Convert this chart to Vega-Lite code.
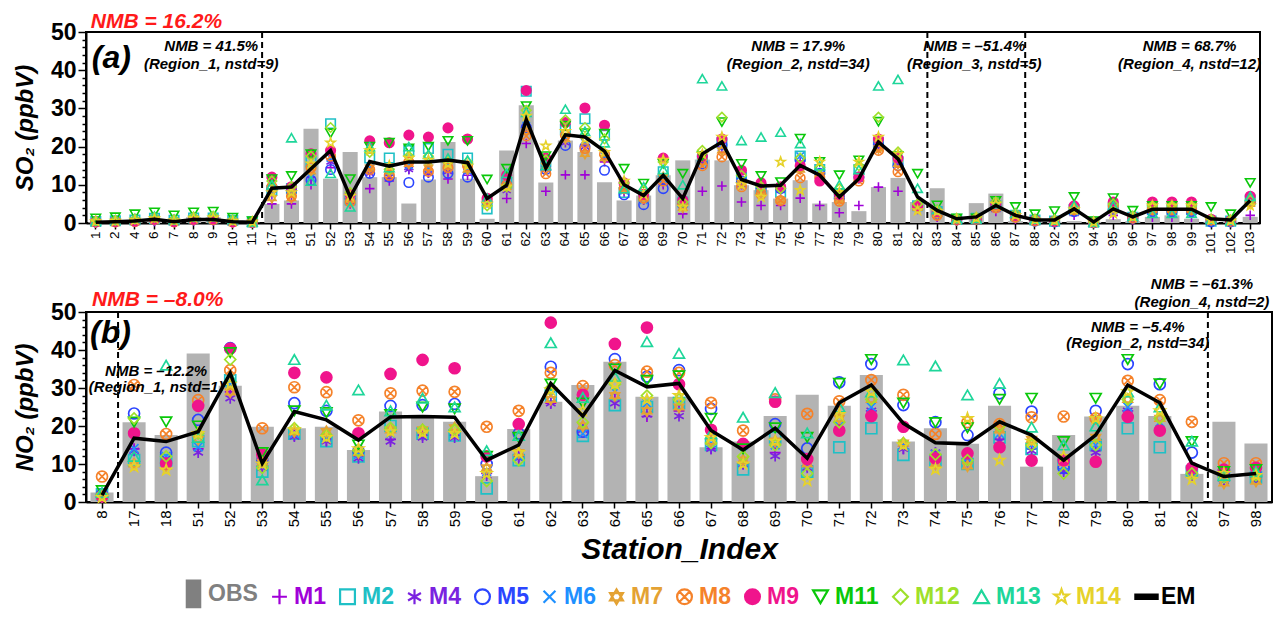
{
  "$schema": "https://vega.github.io/schema/vega-lite/v6.json",
  "padding": {"left": 12, "top": 9, "right": 5, "bottom": 5},
  "background": "white",
  "config": {
    "view": {"stroke": "black", "strokeWidth": 2},
    "font": "Liberation Sans",
    "axis": {"domainColor": "black", "domainWidth": 2, "tickColor": "black", "tickWidth": 1.5, "labelColor": "black", "titleColor": "black", "grid": false, "labelFont": "Liberation Sans", "titleFont": "Liberation Sans"},
    "axisY": {"labelOverlap": false},
    "legend": {"title": null, "orient": "none", "legendX": 96, "legendY": 550, "direction": "horizontal", "columns": 14, "columnPadding": 9, "labelFont": "Liberation Sans Narrow, Liberation Sans", "labelFontSize": 23, "labelFontWeight": "bold", "labelOffset": 3, "symbolSize": 220, "symbolStrokeWidth": 2.2, "labelLimit": 200, "symbolOpacity": 1},
    "text": {"font": "Liberation Sans"}
  },
  "datasets": {
    "a": [
      {"s":"1","OBS":0.2,"EM":0.2,"M1":0.1,"M2":0.4,"M4":0.2,"M5":0.3,"M6":0.3,"M7":0.3,"M8":0.3,"M9":0.3,"M11":1.2,"M12":0.5,"M13":0.6,"M14":0.4},
      {"s":"2","OBS":0.3,"EM":0.3,"M1":0.2,"M2":0.6,"M4":0.3,"M5":0.4,"M6":0.4,"M7":0.4,"M8":0.3,"M9":0.4,"M11":1.5,"M12":0.7,"M13":0.8,"M14":0.5},
      {"s":"4","OBS":0.3,"EM":0.5,"M1":0.2,"M2":0.8,"M4":0.3,"M5":0.5,"M6":0.5,"M7":0.5,"M8":0.4,"M9":0.5,"M11":2.3,"M12":1.0,"M13":1.2,"M14":0.8},
      {"s":"6","OBS":0.5,"EM":1.0,"M1":0.4,"M2":1.2,"M4":0.6,"M5":0.9,"M6":1.0,"M7":1.0,"M8":0.9,"M9":1.0,"M11":2.8,"M12":1.5,"M13":1.8,"M14":1.2},
      {"s":"7","OBS":0.3,"EM":0.3,"M1":0.2,"M2":0.7,"M4":0.3,"M5":0.4,"M6":0.4,"M7":0.4,"M8":0.3,"M9":0.4,"M11":2.0,"M12":0.9,"M13":0.9,"M14":0.6},
      {"s":"8","OBS":1.5,"EM":0.9,"M1":0.5,"M2":1.3,"M4":0.7,"M5":0.9,"M6":1.0,"M7":1.0,"M8":0.9,"M9":1.0,"M11":2.8,"M12":1.6,"M13":1.6,"M14":1.3},
      {"s":"9","OBS":1.5,"EM":0.9,"M1":0.5,"M2":1.3,"M4":0.7,"M5":1.0,"M6":1.0,"M7":1.0,"M8":0.9,"M9":1.1,"M11":3.0,"M12":1.8,"M13":1.7,"M14":1.4},
      {"s":"10","OBS":0.2,"EM":0.3,"M1":0.1,"M2":0.7,"M4":0.2,"M5":0.4,"M6":0.4,"M7":0.3,"M8":0.3,"M9":0.3,"M11":1.4,"M12":0.8,"M13":0.9,"M14":0.5},
      {"s":"11","OBS":0.1,"EM":0.2,"M1":0.1,"M2":0.3,"M4":0.1,"M5":0.2,"M6":0.2,"M7":0.2,"M8":0.2,"M9":0.2,"M11":0.5,"M12":0.3,"M13":0.3,"M14":0.3},
      {"s":"17","OBS":5.0,"EM":9.1,"M1":5.0,"M2":8.5,"M4":7.5,"M5":9.0,"M6":8.0,"M7":6.5,"M8":9.5,"M9":12.0,"M11":11.5,"M12":11.0,"M13":10.0,"M14":8.0},
      {"s":"18","OBS":5.9,"EM":9.4,"M1":5.0,"M2":9.0,"M4":7.0,"M5":8.5,"M6":8.0,"M7":6.5,"M8":7.0,"M9":9.5,"M11":12.3,"M12":9.5,"M13":22.3,"M14":8.0},
      {"s":"51","OBS":24.7,"EM":14.2,"M1":10.0,"M2":16.0,"M4":11.5,"M5":11.2,"M6":12.0,"M7":13.5,"M8":14.5,"M9":18.1,"M11":18.0,"M12":17.5,"M13":11.0,"M14":15.5},
      {"s":"52","OBS":11.6,"EM":19.0,"M1":14.5,"M2":26.0,"M4":16.0,"M5":14.0,"M6":17.0,"M7":18.5,"M8":17.5,"M9":19.0,"M11":23.5,"M12":25.0,"M13":13.0,"M14":21.0},
      {"s":"53","OBS":18.6,"EM":6.8,"M1":5.0,"M2":6.0,"M4":5.5,"M5":6.5,"M6":6.5,"M7":6.0,"M8":5.5,"M9":7.5,"M11":11.5,"M12":8.0,"M13":4.2,"M14":7.0},
      {"s":"54","OBS":12.0,"EM":16.1,"M1":9.0,"M2":17.0,"M4":13.0,"M5":13.0,"M6":14.5,"M7":14.5,"M8":14.0,"M9":21.5,"M11":20.0,"M12":18.5,"M13":20.0,"M14":19.0},
      {"s":"55","OBS":12.0,"EM":14.9,"M1":11.0,"M2":17.0,"M4":12.0,"M5":12.0,"M6":13.5,"M7":13.5,"M8":12.5,"M9":21.0,"M11":21.0,"M12":14.0,"M13":14.5,"M14":15.0},
      {"s":"56","OBS":5.1,"EM":16.0,"M1":14.0,"M2":19.0,"M4":14.0,"M5":10.6,"M6":15.0,"M7":15.5,"M8":16.0,"M9":23.0,"M11":19.5,"M12":17.5,"M13":20.0,"M14":17.0},
      {"s":"57","OBS":11.4,"EM":16.0,"M1":13.0,"M2":19.5,"M4":13.0,"M5":12.0,"M6":14.5,"M7":14.5,"M8":13.5,"M9":22.5,"M11":20.0,"M12":17.5,"M13":18.0,"M14":16.5},
      {"s":"58","OBS":21.2,"EM":16.5,"M1":11.5,"M2":18.0,"M4":13.5,"M5":13.0,"M6":15.0,"M7":15.0,"M8":14.5,"M9":24.9,"M11":21.5,"M12":16.0,"M13":17.0,"M14":15.5},
      {"s":"59","OBS":11.6,"EM":15.8,"M1":12.5,"M2":17.0,"M4":13.5,"M5":12.0,"M6":14.0,"M7":14.0,"M8":15.0,"M9":22.0,"M11":21.5,"M12":16.0,"M13":16.5,"M14":15.0},
      {"s":"60","OBS":1.1,"EM":6.4,"M1":5.5,"M2":3.7,"M4":5.5,"M5":5.5,"M6":6.0,"M7":6.0,"M8":6.0,"M9":6.5,"M11":11.4,"M12":4.5,"M13":6.5,"M14":5.0},
      {"s":"61","OBS":19.0,"EM":9.9,"M1":6.4,"M2":10.5,"M4":8.5,"M5":10.0,"M6":11.0,"M7":9.5,"M8":10.0,"M9":12.5,"M11":14.2,"M12":9.5,"M13":13.0,"M14":9.5},
      {"s":"62","OBS":30.8,"EM":27.1,"M1":20.8,"M2":34.5,"M4":25.0,"M5":25.0,"M6":25.5,"M7":24.0,"M8":22.8,"M9":34.7,"M11":30.6,"M12":29.5,"M13":29.0,"M14":28.0},
      {"s":"63","OBS":10.6,"EM":14.4,"M1":8.3,"M2":16.0,"M4":14.0,"M5":14.0,"M6":15.0,"M7":15.0,"M8":12.9,"M9":17.0,"M11":17.5,"M12":16.5,"M13":15.0,"M14":20.2},
      {"s":"64","OBS":21.6,"EM":23.1,"M1":12.6,"M2":24.5,"M4":21.0,"M5":20.3,"M6":22.0,"M7":22.0,"M8":23.0,"M9":26.3,"M11":25.5,"M12":27.0,"M13":29.8,"M14":24.0},
      {"s":"65","OBS":18.6,"EM":22.5,"M1":12.6,"M2":27.3,"M4":20.0,"M5":20.0,"M6":21.0,"M7":18.1,"M8":19.5,"M9":30.1,"M11":23.5,"M12":25.0,"M13":24.0,"M14":22.0},
      {"s":"66","OBS":10.7,"EM":18.8,"M1":16.0,"M2":23.0,"M4":17.0,"M5":13.8,"M6":17.5,"M7":17.0,"M8":18.0,"M9":25.6,"M11":23.4,"M12":22.0,"M13":21.0,"M14":18.5},
      {"s":"67","OBS":5.9,"EM":10.0,"M1":8.0,"M2":8.0,"M4":8.5,"M5":7.4,"M6":8.5,"M7":9.0,"M8":9.0,"M9":10.5,"M11":14.2,"M12":10.5,"M13":9.0,"M14":11.0},
      {"s":"68","OBS":7.2,"EM":7.2,"M1":6.0,"M2":7.0,"M4":6.0,"M5":4.8,"M6":6.0,"M7":6.5,"M8":6.5,"M9":7.5,"M11":10.3,"M12":8.5,"M13":9.5,"M14":7.5},
      {"s":"69","OBS":12.5,"EM":12.5,"M1":10.0,"M2":13.4,"M4":10.5,"M5":9.0,"M6":11.5,"M7":12.0,"M8":11.0,"M9":17.0,"M11":15.5,"M12":16.0,"M13":14.0,"M14":16.5},
      {"s":"70","OBS":16.4,"EM":6.4,"M1":2.4,"M2":5.5,"M4":4.5,"M5":5.0,"M6":5.0,"M7":4.0,"M8":5.0,"M9":6.0,"M11":12.9,"M12":5.5,"M13":10.0,"M14":4.2},
      {"s":"71","OBS":16.6,"EM":18.1,"M1":8.3,"M2":16.5,"M4":16.0,"M5":15.5,"M6":16.5,"M7":16.0,"M8":15.0,"M9":17.5,"M11":17.5,"M12":19.0,"M13":37.8,"M14":18.0},
      {"s":"72","OBS":16.4,"EM":21.2,"M1":9.7,"M2":21.0,"M4":19.5,"M5":20.5,"M6":20.0,"M7":19.0,"M8":17.3,"M9":22.0,"M11":26.4,"M12":27.7,"M13":35.9,"M14":22.5},
      {"s":"73","OBS":9.9,"EM":11.4,"M1":5.5,"M2":12.0,"M4":10.0,"M5":11.0,"M6":11.0,"M7":10.5,"M8":9.5,"M9":13.8,"M11":15.5,"M12":12.5,"M13":21.6,"M14":10.0},
      {"s":"74","OBS":8.6,"EM":9.7,"M1":4.6,"M2":9.0,"M4":8.0,"M5":9.0,"M6":9.0,"M7":8.0,"M8":7.5,"M9":10.5,"M11":12.3,"M12":9.5,"M13":22.5,"M14":6.8},
      {"s":"75","OBS":6.4,"EM":9.9,"M1":4.6,"M2":8.0,"M4":8.5,"M5":9.0,"M6":9.5,"M7":6.0,"M8":5.9,"M9":9.5,"M11":10.7,"M12":9.0,"M13":23.8,"M14":16.0},
      {"s":"76","OBS":11.2,"EM":15.1,"M1":6.5,"M2":17.5,"M4":16.0,"M5":16.5,"M6":17.5,"M7":14.0,"M8":11.8,"M9":15.0,"M11":22.1,"M12":17.0,"M13":20.8,"M14":8.6},
      {"s":"77","OBS":5.1,"EM":12.5,"M1":4.6,"M2":14.0,"M4":12.0,"M5":13.0,"M6":13.0,"M7":12.5,"M8":12.0,"M9":11.0,"M11":16.0,"M12":14.5,"M13":15.0,"M14":16.0},
      {"s":"78","OBS":5.5,"EM":6.8,"M1":2.7,"M2":7.5,"M4":6.5,"M5":6.5,"M6":7.0,"M7":6.0,"M8":5.7,"M9":7.5,"M11":12.5,"M12":9.0,"M13":10.0,"M14":8.0},
      {"s":"79","OBS":3.1,"EM":11.6,"M1":4.6,"M2":14.0,"M4":11.5,"M5":12.0,"M6":12.5,"M7":12.0,"M8":11.0,"M9":12.0,"M11":16.4,"M12":15.0,"M13":14.0,"M14":16.0},
      {"s":"80","OBS":9.4,"EM":21.2,"M1":9.4,"M2":21.0,"M4":20.0,"M5":20.5,"M6":20.5,"M7":19.5,"M8":19.0,"M9":22.0,"M11":26.5,"M12":27.7,"M13":35.9,"M14":22.5},
      {"s":"81","OBS":11.8,"EM":16.8,"M1":8.3,"M2":16.0,"M4":15.5,"M5":15.0,"M6":16.0,"M7":15.5,"M8":13.4,"M9":17.0,"M11":17.5,"M12":18.6,"M13":37.6,"M14":18.0},
      {"s":"82","OBS":5.5,"EM":6.8,"M1":3.5,"M2":4.5,"M4":4.0,"M5":4.5,"M6":4.5,"M7":4.0,"M8":4.5,"M9":4.5,"M11":12.9,"M12":5.0,"M13":9.1,"M14":3.3},
      {"s":"83","OBS":9.1,"EM":3.3,"M1":1.5,"M2":3.0,"M4":2.5,"M5":2.5,"M6":3.0,"M7":2.5,"M8":2.0,"M9":3.0,"M11":4.6,"M12":3.5,"M13":3.5,"M14":3.0},
      {"s":"84","OBS":0.3,"EM":1.1,"M1":0.5,"M2":1.0,"M4":0.8,"M5":0.8,"M6":0.8,"M7":0.8,"M8":0.8,"M9":1.0,"M11":1.2,"M12":1.2,"M13":1.2,"M14":1.0},
      {"s":"85","OBS":5.2,"EM":1.6,"M1":0.8,"M2":1.2,"M4":1.0,"M5":1.0,"M6":1.0,"M7":1.0,"M8":1.0,"M9":1.2,"M11":1.2,"M12":1.5,"M13":1.2,"M14":1.3},
      {"s":"86","OBS":7.7,"EM":4.6,"M1":3.0,"M2":4.5,"M4":4.0,"M5":4.5,"M6":4.5,"M7":4.0,"M8":4.0,"M9":5.0,"M11":5.8,"M12":5.5,"M13":5.0,"M14":5.0},
      {"s":"87","OBS":0.5,"EM":2.0,"M1":1.0,"M2":2.0,"M4":1.5,"M5":1.5,"M6":1.5,"M7":1.5,"M8":1.5,"M9":2.0,"M11":4.2,"M12":2.5,"M13":2.5,"M14":2.0},
      {"s":"88","OBS":0.3,"EM":0.8,"M1":0.3,"M2":0.8,"M4":0.5,"M5":0.5,"M6":0.6,"M7":0.6,"M8":0.6,"M9":0.8,"M11":2.3,"M12":1.0,"M13":1.0,"M14":0.8},
      {"s":"92","OBS":0.3,"EM":0.8,"M1":0.2,"M2":0.5,"M4":0.3,"M5":0.3,"M6":0.5,"M7":0.5,"M8":0.5,"M9":0.5,"M11":3.1,"M12":0.8,"M13":0.8,"M14":0.6},
      {"s":"93","OBS":0.5,"EM":3.7,"M1":2.0,"M2":3.5,"M4":3.0,"M5":3.0,"M6":3.0,"M7":3.5,"M8":3.5,"M9":4.5,"M11":6.8,"M12":4.0,"M13":4.5,"M14":3.5},
      {"s":"94","OBS":0.3,"EM":0.3,"M1":0.1,"M2":0.2,"M4":0.1,"M5":0.1,"M6":0.2,"M7":0.2,"M8":0.2,"M9":0.2,"M11":0.5,"M12":0.2,"M13":0.3,"M14":0.2},
      {"s":"95","OBS":1.0,"EM":3.7,"M1":2.0,"M2":4.0,"M4":3.5,"M5":3.5,"M6":4.0,"M7":4.0,"M8":4.5,"M9":5.5,"M11":6.5,"M12":5.0,"M13":4.5,"M14":2.5},
      {"s":"96","OBS":0.5,"EM":1.6,"M1":0.8,"M2":1.5,"M4":1.2,"M5":1.2,"M6":1.3,"M7":1.3,"M8":1.3,"M9":1.6,"M11":3.2,"M12":1.8,"M13":1.8,"M14":1.5},
      {"s":"97","OBS":1.6,"EM":3.6,"M1":1.5,"M2":3.5,"M4":3.0,"M5":3.0,"M6":3.0,"M7":3.5,"M8":3.5,"M9":5.5,"M11":4.5,"M12":4.5,"M13":2.5,"M14":4.5},
      {"s":"98","OBS":2.0,"EM":3.6,"M1":1.5,"M2":3.5,"M4":3.0,"M5":3.0,"M6":3.0,"M7":3.5,"M8":3.5,"M9":5.5,"M11":4.5,"M12":4.5,"M13":2.5,"M14":4.5},
      {"s":"99","OBS":1.1,"EM":3.6,"M1":1.5,"M2":3.5,"M4":3.0,"M5":3.0,"M6":3.0,"M7":3.5,"M8":3.5,"M9":5.5,"M11":4.5,"M12":4.5,"M13":2.5,"M14":4.5},
      {"s":"101","OBS":0.3,"EM":1.1,"M1":0.5,"M2":0.5,"M4":0.5,"M5":0.3,"M6":0.5,"M7":0.8,"M8":0.8,"M9":1.0,"M11":4.2,"M12":1.0,"M13":1.0,"M14":0.8},
      {"s":"102","OBS":0.3,"EM":0.8,"M1":0.3,"M2":0.5,"M4":0.4,"M5":0.3,"M6":0.4,"M7":0.5,"M8":0.5,"M9":0.6,"M11":2.3,"M12":0.8,"M13":0.7,"M14":0.6},
      {"s":"103","OBS":1.6,"EM":5.9,"M1":2.0,"M2":6.0,"M4":5.0,"M5":5.5,"M6":5.5,"M7":5.0,"M8":5.5,"M9":7.0,"M11":10.5,"M12":6.0,"M13":7.0,"M14":4.5}
    ],
    "b": [
      {"s":"8","OBS":2.5,"EM":1.8,"M1":1.5,"M2":2.0,"M4":1.2,"M5":2.0,"M6":1.5,"M7":1.5,"M8":6.7,"M9":1.5,"M11":3.0,"M12":2.0,"M13":2.5,"M14":1.2},
      {"s":"17","OBS":21.0,"EM":16.8,"M1":14.0,"M2":11.0,"M4":13.5,"M5":23.3,"M6":14.1,"M7":10.0,"M8":30.8,"M9":18.1,"M11":21.0,"M12":22.0,"M13":12.0,"M14":9.3},
      {"s":"18","OBS":17.6,"EM":15.9,"M1":10.0,"M2":11.0,"M4":11.0,"M5":13.0,"M6":12.0,"M7":9.5,"M8":17.9,"M9":10.2,"M11":21.1,"M12":12.0,"M13":36.0,"M14":8.4},
      {"s":"51","OBS":39.1,"EM":18.5,"M1":14.0,"M2":16.0,"M4":13.0,"M5":21.6,"M6":14.5,"M7":16.5,"M8":26.8,"M9":25.3,"M11":20.0,"M12":18.0,"M13":17.0,"M14":18.0},
      {"s":"52","OBS":30.6,"EM":33.9,"M1":29.0,"M2":32.0,"M4":27.3,"M5":40.5,"M6":31.0,"M7":29.0,"M8":34.7,"M9":40.4,"M11":39.3,"M12":37.5,"M13":33.0,"M14":31.0},
      {"s":"53","OBS":19.8,"EM":10.2,"M1":9.0,"M2":8.0,"M4":9.0,"M5":11.0,"M6":9.5,"M7":10.5,"M8":19.4,"M9":12.5,"M11":13.0,"M12":9.0,"M13":5.8,"M14":10.0},
      {"s":"54","OBS":19.4,"EM":23.8,"M1":17.5,"M2":18.0,"M4":17.2,"M5":26.0,"M6":18.0,"M7":18.5,"M8":30.2,"M9":34.0,"M11":24.0,"M12":19.4,"M13":37.5,"M14":19.0},
      {"s":"55","OBS":19.8,"EM":21.6,"M1":16.0,"M2":16.0,"M4":16.0,"M5":24.0,"M6":17.0,"M7":18.5,"M8":28.9,"M9":32.8,"M11":23.5,"M12":17.5,"M13":25.5,"M14":17.0},
      {"s":"56","OBS":13.7,"EM":16.3,"M1":12.0,"M2":12.0,"M4":11.5,"M5":13.5,"M6":12.5,"M7":13.0,"M8":21.5,"M9":18.1,"M11":15.0,"M12":13.5,"M13":29.5,"M14":14.0},
      {"s":"57","OBS":23.8,"EM":22.4,"M1":16.5,"M2":20.0,"M4":15.9,"M5":25.3,"M6":18.0,"M7":19.0,"M8":28.6,"M9":33.7,"M11":23.0,"M12":19.5,"M13":24.0,"M14":18.5},
      {"s":"58","OBS":22.4,"EM":22.5,"M1":17.5,"M2":18.0,"M4":17.0,"M5":25.5,"M6":18.0,"M7":19.0,"M8":29.3,"M9":37.4,"M11":25.0,"M12":19.0,"M13":27.3,"M14":18.2},
      {"s":"59","OBS":21.1,"EM":22.3,"M1":17.5,"M2":17.5,"M4":17.0,"M5":25.8,"M6":18.0,"M7":19.5,"M8":29.0,"M9":35.2,"M11":24.5,"M12":19.0,"M13":25.0,"M14":18.0},
      {"s":"60","OBS":6.8,"EM":11.0,"M1":7.5,"M2":3.6,"M4":7.0,"M5":10.0,"M6":8.0,"M7":9.0,"M8":19.8,"M9":12.0,"M11":12.0,"M12":5.5,"M13":13.5,"M14":7.5},
      {"s":"61","OBS":19.2,"EM":15.0,"M1":12.0,"M2":11.0,"M4":11.5,"M5":18.0,"M6":12.0,"M7":13.0,"M8":24.0,"M9":20.5,"M11":17.0,"M12":11.0,"M13":17.5,"M14":13.0},
      {"s":"62","OBS":26.4,"EM":31.2,"M1":26.0,"M2":28.0,"M4":26.0,"M5":35.6,"M6":28.0,"M7":27.0,"M8":34.0,"M9":47.2,"M11":31.0,"M12":30.0,"M13":41.9,"M14":29.5},
      {"s":"63","OBS":30.8,"EM":22.6,"M1":19.0,"M2":17.4,"M4":19.0,"M5":18.5,"M6":18.0,"M7":20.0,"M8":30.5,"M9":28.2,"M11":26.0,"M12":21.0,"M13":27.5,"M14":24.0},
      {"s":"64","OBS":36.9,"EM":34.6,"M1":27.0,"M2":25.5,"M4":26.0,"M5":37.6,"M6":29.0,"M7":28.0,"M8":36.0,"M9":41.6,"M11":35.0,"M12":31.0,"M13":33.0,"M14":31.0},
      {"s":"65","OBS":27.7,"EM":30.3,"M1":22.5,"M2":25.0,"M4":23.0,"M5":33.0,"M6":26.0,"M7":24.0,"M8":34.3,"M9":45.9,"M11":32.0,"M12":28.0,"M13":42.2,"M14":27.0},
      {"s":"66","OBS":27.7,"EM":31.2,"M1":24.0,"M2":26.0,"M4":22.6,"M5":34.7,"M6":26.0,"M7":25.0,"M8":34.0,"M9":31.0,"M11":33.2,"M12":27.0,"M13":39.1,"M14":28.0},
      {"s":"67","OBS":14.4,"EM":18.8,"M1":14.0,"M2":15.0,"M4":14.0,"M5":24.5,"M6":15.5,"M7":16.0,"M8":26.1,"M9":19.0,"M11":22.0,"M12":15.5,"M13":18.0,"M14":17.0},
      {"s":"68","OBS":15.9,"EM":13.7,"M1":10.0,"M2":8.6,"M4":10.0,"M5":15.0,"M6":10.5,"M7":11.0,"M8":18.8,"M9":15.3,"M11":14.0,"M12":12.0,"M13":22.3,"M14":10.0},
      {"s":"69","OBS":22.6,"EM":19.4,"M1":13.0,"M2":17.0,"M4":12.1,"M5":20.5,"M6":15.0,"M7":16.0,"M8":27.0,"M9":26.4,"M11":19.5,"M12":15.0,"M13":28.8,"M14":16.0},
      {"s":"70","OBS":28.2,"EM":11.5,"M1":9.5,"M2":8.0,"M4":9.0,"M5":14.1,"M6":10.0,"M7":10.0,"M8":23.2,"M9":11.3,"M11":17.0,"M12":7.5,"M13":18.2,"M14":5.6},
      {"s":"71","OBS":25.3,"EM":26.1,"M1":19.0,"M2":14.4,"M4":19.0,"M5":31.5,"M6":20.0,"M7":22.0,"M8":26.5,"M9":18.8,"M11":31.2,"M12":21.0,"M13":25.0,"M14":23.0},
      {"s":"72","OBS":33.4,"EM":30.8,"M1":24.0,"M2":19.4,"M4":24.0,"M5":36.3,"M6":25.0,"M7":27.0,"M8":32.1,"M9":22.6,"M11":37.5,"M12":27.0,"M13":29.0,"M14":29.0},
      {"s":"73","OBS":15.9,"EM":20.7,"M1":14.0,"M2":12.4,"M4":14.0,"M5":25.5,"M6":15.0,"M7":15.5,"M8":28.2,"M9":19.8,"M11":26.0,"M12":15.5,"M13":37.4,"M14":15.0},
      {"s":"74","OBS":19.4,"EM":15.6,"M1":12.0,"M2":11.0,"M4":13.0,"M5":21.0,"M6":12.5,"M7":10.0,"M8":17.9,"M9":11.5,"M11":20.9,"M12":12.5,"M13":35.8,"M14":8.6},
      {"s":"75","OBS":15.3,"EM":15.3,"M1":10.5,"M2":10.0,"M4":11.0,"M5":17.6,"M6":11.5,"M7":9.5,"M8":21.0,"M9":12.8,"M11":19.5,"M12":11.0,"M13":28.2,"M14":22.0},
      {"s":"76","OBS":25.3,"EM":21.1,"M1":16.5,"M2":17.0,"M4":16.0,"M5":28.6,"M6":18.0,"M7":19.0,"M8":20.5,"M9":14.4,"M11":27.0,"M12":20.0,"M13":31.2,"M14":11.0},
      {"s":"77","OBS":9.3,"EM":17.6,"M1":14.0,"M2":14.0,"M4":13.5,"M5":23.8,"M6":15.0,"M7":16.5,"M8":22.3,"M9":10.9,"M11":27.3,"M12":15.0,"M13":19.7,"M14":16.0},
      {"s":"78","OBS":17.6,"EM":11.0,"M1":8.5,"M2":10.0,"M4":8.0,"M5":9.0,"M6":9.5,"M7":10.5,"M8":22.5,"M9":11.0,"M11":15.9,"M12":7.5,"M13":15.0,"M14":12.0},
      {"s":"79","OBS":22.5,"EM":17.6,"M1":13.5,"M2":15.0,"M4":13.0,"M5":24.0,"M6":15.0,"M7":17.0,"M8":22.0,"M9":10.6,"M11":27.3,"M12":15.0,"M13":20.0,"M14":22.0},
      {"s":"80","OBS":25.3,"EM":30.8,"M1":24.0,"M2":19.4,"M4":24.0,"M5":36.3,"M6":25.0,"M7":27.0,"M8":31.9,"M9":22.4,"M11":37.5,"M12":27.0,"M13":29.0,"M14":29.0},
      {"s":"81","OBS":22.6,"EM":26.1,"M1":19.0,"M2":14.4,"M4":19.0,"M5":31.0,"M6":21.0,"M7":22.0,"M8":26.8,"M9":18.8,"M11":31.1,"M12":22.0,"M13":25.0,"M14":24.0},
      {"s":"82","OBS":7.4,"EM":10.2,"M1":7.0,"M2":8.0,"M4":7.0,"M5":13.0,"M6":8.0,"M7":8.5,"M8":21.1,"M9":9.0,"M11":15.9,"M12":7.5,"M13":16.0,"M14":6.0},
      {"s":"97","OBS":21.1,"EM":6.7,"M1":5.5,"M2":7.0,"M4":5.5,"M5":7.0,"M6":6.0,"M7":5.0,"M8":10.2,"M9":8.5,"M11":8.0,"M12":6.5,"M13":7.0,"M14":7.5},
      {"s":"98","OBS":15.4,"EM":7.5,"M1":5.5,"M2":6.5,"M4":6.0,"M5":7.0,"M6":6.5,"M7":5.5,"M8":10.2,"M9":9.0,"M11":8.5,"M12":7.0,"M13":8.0,"M14":7.0}
    ]
  },
  "resolve": {"scale": {"color": "shared", "shape": "shared", "fill": "shared", "x": "independent", "y": "independent"}, "legend": {"color": "shared", "shape": "shared", "fill": "shared"}},
  "spacing": 20,
  "vconcat": [
    {
      "width": 1174,
      "height": 191,
      "data": {"name": "a"},
      "encoding": {
        "x": {"field": "s", "type": "ordinal", "title": null,
          "scale": {"domain": ["1","2","4","6","7","8","9","10","11","17","18","51","52","53","54","55","56","57","58","59","60","61","62","63","64","65","66","67","68","69","70","71","72","73","74","75","76","77","78","79","80","81","82","83","84","85","86","87","88","92","93","94","95","96","97","98","99","101","102","103"], "paddingInner": 0, "paddingOuter": 0},
          "axis": {"labelAngle": 270, "labelFontSize": 13.5, "tickSize": 6, "labelPadding": 2, "title": null}}
      },
      "layer": [
        {"mark": {"type": "bar", "color": "#b3b3b3", "width": {"band": 0.77}},
         "encoding": {"y": {"field": "OBS", "type": "quantitative", "scale": {"domain": [0, 50], "nice": false},
           "axis": {"values": [0,2,4,6,8,10,12,14,16,18,20,22,24,26,28,30,32,34,36,38,40,42,44,46,48,50], "labelExpr": "datum.value % 10 === 0 ? datum.label : ''", "labelOverlap": false, "tickSize": {"condition": {"test": "datum.value % 10 === 0", "value": 8}, "value": 4}, "labelFontSize": 23, "labelFontWeight": "bold", "labelFlush": false, "labelPadding": 2, "title": "SO₂ (ppbV)", "titleFontSize": 24, "titleFontWeight": "bold", "titleFontStyle": "italic", "titlePadding": 13}}}},
        {"transform": [{"fold": ["M1","M2","M4","M5","M6","M7","M8","M9","M11","M12","M13","M14"], "as": ["m", "v"]}],
         "mark": {"type": "point", "size": 90, "strokeWidth": 1.6, "opacity": 1},
         "encoding": {
           "y": {"field": "v", "type": "quantitative",
             "axis": {"values": [0,2,4,6,8,10,12,14,16,18,20,22,24,26,28,30,32,34,36,38,40,42,44,46,48,50], "labelExpr": "datum.value % 10 === 0 ? datum.label : ''", "labelOverlap": false, "tickSize": {"condition": {"test": "datum.value % 10 === 0", "value": 8}, "value": 4}, "labelFontSize": 23, "labelFontWeight": "bold", "labelFlush": false, "labelPadding": 2, "title": "SO₂ (ppbV)", "titleFontSize": 24, "titleFontWeight": "bold", "titleFontStyle": "italic", "titlePadding": 13}},
           "color": {"field": "m", "type": "nominal",
             "scale": {"domain": ["OBS","M1","M2","M4","M5","M6","M7","M8","M9","M11","M12","M13","M14","EM"], "range": ["#808080","#a000d8","#1fc0c6","#7a22e0","#2b45ff","#1e90ff","#e4a233","#f5822a","#f0148c","#0ac80a","#9ee02a","#1ed69a","#e6d22a","#000000"]},
             "legend": {"encode": {"labels": {"update": {"fill": {"signal": "datum.value === 'OBS' ? '#808080' : datum.value === 'M1' ? '#a000d8' : datum.value === 'M2' ? '#1fc0c6' : datum.value === 'M4' ? '#7a22e0' : datum.value === 'M5' ? '#2b45ff' : datum.value === 'M6' ? '#1e90ff' : datum.value === 'M7' ? '#e4a233' : datum.value === 'M8' ? '#f5822a' : datum.value === 'M9' ? '#f0148c' : datum.value === 'M11' ? '#0ac80a' : datum.value === 'M12' ? '#9ee02a' : datum.value === 'M13' ? '#1ed69a' : datum.value === 'M14' ? '#e6d22a' : '#000000'"}}}}}},
           "shape": {"field": "m", "type": "nominal",
             "scale": {"domain": ["OBS","M1","M2","M4","M5","M6","M7","M8","M9","M11","M12","M13","M14","EM"], "range": ["M-0.9,-1.8H0.9V1.8H-0.9Z","M-1,0H1M0,-1V1","square","M0,-1V1M-0.87,-0.5L0.87,0.5M-0.87,0.5L0.87,-0.5","circle","M-0.8,-0.8L0.8,0.8M-0.8,0.8L0.8,-0.8","M0,-1L0.87,0.5L-0.87,0.5ZM0,1L0.87,-0.5L-0.87,-0.5Z","M1,0A1,1,0,1,1,-1,0A1,1,0,1,1,1,0ZM-0.7,-0.7L0.7,0.7M-0.7,0.7L0.7,-0.7","circle","triangle-down","diamond","triangle-up","M0,-1L0.235,-0.324L0.951,-0.309L0.38,0.124L0.588,0.809L0,0.4L-0.588,0.809L-0.38,0.124L-0.951,-0.309L-0.235,-0.324Z","M-1.5,-0.28H1.5V0.28H-1.5Z"]},
             "legend": {"encode": {"labels": {"update": {"fill": {"signal": "datum.value === 'OBS' ? '#808080' : datum.value === 'M1' ? '#a000d8' : datum.value === 'M2' ? '#1fc0c6' : datum.value === 'M4' ? '#7a22e0' : datum.value === 'M5' ? '#2b45ff' : datum.value === 'M6' ? '#1e90ff' : datum.value === 'M7' ? '#e4a233' : datum.value === 'M8' ? '#f5822a' : datum.value === 'M9' ? '#f0148c' : datum.value === 'M11' ? '#0ac80a' : datum.value === 'M12' ? '#9ee02a' : datum.value === 'M13' ? '#1ed69a' : datum.value === 'M14' ? '#e6d22a' : '#000000'"}}}}}},
           "fill": {"field": "m", "type": "nominal",
             "scale": {"domain": ["OBS","M1","M2","M4","M5","M6","M7","M8","M9","M11","M12","M13","M14","EM"], "range": ["#808080","transparent","transparent","transparent","transparent","transparent","transparent","transparent","#f0148c","transparent","transparent","transparent","transparent","#000000"]},
             "legend": {"encode": {"labels": {"update": {"fill": {"signal": "datum.value === 'OBS' ? '#808080' : datum.value === 'M1' ? '#a000d8' : datum.value === 'M2' ? '#1fc0c6' : datum.value === 'M4' ? '#7a22e0' : datum.value === 'M5' ? '#2b45ff' : datum.value === 'M6' ? '#1e90ff' : datum.value === 'M7' ? '#e4a233' : datum.value === 'M8' ? '#f5822a' : datum.value === 'M9' ? '#f0148c' : datum.value === 'M11' ? '#0ac80a' : datum.value === 'M12' ? '#9ee02a' : datum.value === 'M13' ? '#1ed69a' : datum.value === 'M14' ? '#e6d22a' : '#000000'"}}}}}}
         }},
        {"mark": {"type": "line", "color": "black", "strokeWidth": 3.5},
         "encoding": {"y": {"field": "EM", "type": "quantitative",
           "axis": {"values": [0,2,4,6,8,10,12,14,16,18,20,22,24,26,28,30,32,34,36,38,40,42,44,46,48,50], "labelExpr": "datum.value % 10 === 0 ? datum.label : ''", "labelOverlap": false, "tickSize": {"condition": {"test": "datum.value % 10 === 0", "value": 8}, "value": 4}, "labelFontSize": 23, "labelFontWeight": "bold", "labelFlush": false, "labelPadding": 2, "title": "SO₂ (ppbV)", "titleFontSize": 24, "titleFontWeight": "bold", "titleFontStyle": "italic", "titlePadding": 13}}}},
        {"data": {"values": [{"s": "17"}, {"s": "83"}, {"s": "88"}]},
         "mark": {"type": "rule", "color": "black", "strokeWidth": 2, "strokeDash": [6, 4]},
         "encoding": {"x": {"field": "s", "type": "ordinal", "bandPosition": 0}}},
        {"data": {"values": [{"s": "1", "y": 43.2, "t": "(a)"}]},
         "mark": {"type": "text", "align": "left", "baseline": "middle", "dx": -4, "fontSize": 32, "fontWeight": "bold", "fontStyle": "italic", "color": "black"},
         "encoding": {"y": {"field": "y", "type": "quantitative",
           "axis": {"values": [0,2,4,6,8,10,12,14,16,18,20,22,24,26,28,30,32,34,36,38,40,42,44,46,48,50], "labelExpr": "datum.value % 10 === 0 ? datum.label : ''", "labelOverlap": false, "tickSize": {"condition": {"test": "datum.value % 10 === 0", "value": 8}, "value": 4}, "labelFontSize": 23, "labelFontWeight": "bold", "labelFlush": false, "labelPadding": 2, "title": "SO₂ (ppbV)", "titleFontSize": 24, "titleFontWeight": "bold", "titleFontStyle": "italic", "titlePadding": 13}}, "text": {"field": "t"}}},
        {"data": {"values": [{"s": "1", "y": 52.7, "t": "NMB = 16.2%"}]},
         "mark": {"type": "text", "align": "left", "baseline": "middle", "dx": -5, "fontSize": 21, "fontWeight": "bold", "fontStyle": "italic", "color": "#ff1a1a"},
         "encoding": {"y": {"field": "y", "type": "quantitative",
           "axis": {"values": [0,2,4,6,8,10,12,14,16,18,20,22,24,26,28,30,32,34,36,38,40,42,44,46,48,50], "labelExpr": "datum.value % 10 === 0 ? datum.label : ''", "labelOverlap": false, "tickSize": {"condition": {"test": "datum.value % 10 === 0", "value": 8}, "value": 4}, "labelFontSize": 23, "labelFontWeight": "bold", "labelFlush": false, "labelPadding": 2, "title": "SO₂ (ppbV)", "titleFontSize": 24, "titleFontWeight": "bold", "titleFontStyle": "italic", "titlePadding": 13}}, "text": {"field": "t"}}},
        {"data": {"values": [
            {"s": "9", "y": 46.4, "t": "NMB = 41.5%"}, {"s": "9", "y": 41.6, "t": "(Region_1, nstd=9)"},
            {"s": "76", "y": 46.4, "t": "NMB = 17.9%"}, {"s": "76", "y": 41.6, "t": "(Region_2, nstd=34)"},
            {"s": "85", "y": 46.4, "t": "NMB = –51.4%"}, {"s": "85", "y": 41.6, "t": "(Region_3, nstd=5)"},
            {"s": "99", "y": 46.4, "t": "NMB = 68.7%"}, {"s": "99", "y": 41.6, "t": "(Region_4, nstd=12)"}]},
         "mark": {"type": "text", "align": "center", "baseline": "middle", "dx": -2, "fontSize": 15, "fontWeight": "bold", "fontStyle": "italic", "color": "black"},
         "encoding": {"y": {"field": "y", "type": "quantitative",
           "axis": {"values": [0,2,4,6,8,10,12,14,16,18,20,22,24,26,28,30,32,34,36,38,40,42,44,46,48,50], "labelExpr": "datum.value % 10 === 0 ? datum.label : ''", "labelOverlap": false, "tickSize": {"condition": {"test": "datum.value % 10 === 0", "value": 8}, "value": 4}, "labelFontSize": 23, "labelFontWeight": "bold", "labelFlush": false, "labelPadding": 2, "title": "SO₂ (ppbV)", "titleFontSize": 24, "titleFontWeight": "bold", "titleFontStyle": "italic", "titlePadding": 13}}, "text": {"field": "t"}}}
      ]
    },
    {
      "width": 1186,
      "height": 190,
      "data": {"name": "b"},
      "encoding": {
        "x": {"field": "s", "type": "ordinal",
          "scale": {"domain": ["8","17","18","51","52","53","54","55","56","57","58","59","60","61","62","63","64","65","66","67","68","69","70","71","72","73","74","75","76","77","78","79","80","81","82","97","98"], "paddingInner": 0, "paddingOuter": 0},
          "axis": {"labelAngle": 270, "labelFontSize": 15, "tickSize": 6, "labelPadding": 2, "title": "Station_Index", "titleFontSize": 30, "titleFontWeight": "bold", "titleFontStyle": "italic", "titlePadding": 8}}
      },
      "layer": [
        {"mark": {"type": "bar", "color": "#b3b3b3", "width": {"band": 0.72}},
         "encoding": {"y": {"field": "OBS", "type": "quantitative", "scale": {"domain": [0, 50], "nice": false},
           "axis": {"values": [0,2,4,6,8,10,12,14,16,18,20,22,24,26,28,30,32,34,36,38,40,42,44,46,48,50], "labelExpr": "datum.value % 10 === 0 ? datum.label : ''", "labelOverlap": false, "tickSize": {"condition": {"test": "datum.value % 10 === 0", "value": 8}, "value": 4}, "labelFontSize": 23, "labelFontWeight": "bold", "labelFlush": false, "labelPadding": 2, "title": "NO₂ (ppbV)", "titleFontSize": 24, "titleFontWeight": "bold", "titleFontStyle": "italic", "titlePadding": 13}}}},
        {"transform": [{"fold": ["M1","M2","M4","M5","M6","M7","M8","M9","M11","M12","M13","M14"], "as": ["m", "v"]}],
         "mark": {"type": "point", "size": 120, "strokeWidth": 1.7, "opacity": 1},
         "encoding": {
           "y": {"field": "v", "type": "quantitative",
             "axis": {"values": [0,2,4,6,8,10,12,14,16,18,20,22,24,26,28,30,32,34,36,38,40,42,44,46,48,50], "labelExpr": "datum.value % 10 === 0 ? datum.label : ''", "labelOverlap": false, "tickSize": {"condition": {"test": "datum.value % 10 === 0", "value": 8}, "value": 4}, "labelFontSize": 23, "labelFontWeight": "bold", "labelFlush": false, "labelPadding": 2, "title": "NO₂ (ppbV)", "titleFontSize": 24, "titleFontWeight": "bold", "titleFontStyle": "italic", "titlePadding": 13}},
           "color": {"field": "m", "type": "nominal",
             "scale": {"domain": ["OBS","M1","M2","M4","M5","M6","M7","M8","M9","M11","M12","M13","M14","EM"], "range": ["#808080","#a000d8","#1fc0c6","#7a22e0","#2b45ff","#1e90ff","#e4a233","#f5822a","#f0148c","#0ac80a","#9ee02a","#1ed69a","#e6d22a","#000000"]},
             "legend": {"encode": {"labels": {"update": {"fill": {"signal": "datum.value === 'OBS' ? '#808080' : datum.value === 'M1' ? '#a000d8' : datum.value === 'M2' ? '#1fc0c6' : datum.value === 'M4' ? '#7a22e0' : datum.value === 'M5' ? '#2b45ff' : datum.value === 'M6' ? '#1e90ff' : datum.value === 'M7' ? '#e4a233' : datum.value === 'M8' ? '#f5822a' : datum.value === 'M9' ? '#f0148c' : datum.value === 'M11' ? '#0ac80a' : datum.value === 'M12' ? '#9ee02a' : datum.value === 'M13' ? '#1ed69a' : datum.value === 'M14' ? '#e6d22a' : '#000000'"}}}}}},
           "shape": {"field": "m", "type": "nominal",
             "scale": {"domain": ["OBS","M1","M2","M4","M5","M6","M7","M8","M9","M11","M12","M13","M14","EM"], "range": ["M-0.9,-1.8H0.9V1.8H-0.9Z","M-1,0H1M0,-1V1","square","M0,-1V1M-0.87,-0.5L0.87,0.5M-0.87,0.5L0.87,-0.5","circle","M-0.8,-0.8L0.8,0.8M-0.8,0.8L0.8,-0.8","M0,-1L0.87,0.5L-0.87,0.5ZM0,1L0.87,-0.5L-0.87,-0.5Z","M1,0A1,1,0,1,1,-1,0A1,1,0,1,1,1,0ZM-0.7,-0.7L0.7,0.7M-0.7,0.7L0.7,-0.7","circle","triangle-down","diamond","triangle-up","M0,-1L0.235,-0.324L0.951,-0.309L0.38,0.124L0.588,0.809L0,0.4L-0.588,0.809L-0.38,0.124L-0.951,-0.309L-0.235,-0.324Z","M-1.5,-0.28H1.5V0.28H-1.5Z"]},
             "legend": {"encode": {"labels": {"update": {"fill": {"signal": "datum.value === 'OBS' ? '#808080' : datum.value === 'M1' ? '#a000d8' : datum.value === 'M2' ? '#1fc0c6' : datum.value === 'M4' ? '#7a22e0' : datum.value === 'M5' ? '#2b45ff' : datum.value === 'M6' ? '#1e90ff' : datum.value === 'M7' ? '#e4a233' : datum.value === 'M8' ? '#f5822a' : datum.value === 'M9' ? '#f0148c' : datum.value === 'M11' ? '#0ac80a' : datum.value === 'M12' ? '#9ee02a' : datum.value === 'M13' ? '#1ed69a' : datum.value === 'M14' ? '#e6d22a' : '#000000'"}}}}}},
           "fill": {"field": "m", "type": "nominal",
             "scale": {"domain": ["OBS","M1","M2","M4","M5","M6","M7","M8","M9","M11","M12","M13","M14","EM"], "range": ["#808080","transparent","transparent","transparent","transparent","transparent","transparent","transparent","#f0148c","transparent","transparent","transparent","transparent","#000000"]},
             "legend": {"encode": {"labels": {"update": {"fill": {"signal": "datum.value === 'OBS' ? '#808080' : datum.value === 'M1' ? '#a000d8' : datum.value === 'M2' ? '#1fc0c6' : datum.value === 'M4' ? '#7a22e0' : datum.value === 'M5' ? '#2b45ff' : datum.value === 'M6' ? '#1e90ff' : datum.value === 'M7' ? '#e4a233' : datum.value === 'M8' ? '#f5822a' : datum.value === 'M9' ? '#f0148c' : datum.value === 'M11' ? '#0ac80a' : datum.value === 'M12' ? '#9ee02a' : datum.value === 'M13' ? '#1ed69a' : datum.value === 'M14' ? '#e6d22a' : '#000000'"}}}}}}
         }},
        {"mark": {"type": "line", "color": "black", "strokeWidth": 3.5},
         "encoding": {"y": {"field": "EM", "type": "quantitative",
           "axis": {"values": [0,2,4,6,8,10,12,14,16,18,20,22,24,26,28,30,32,34,36,38,40,42,44,46,48,50], "labelExpr": "datum.value % 10 === 0 ? datum.label : ''", "labelOverlap": false, "tickSize": {"condition": {"test": "datum.value % 10 === 0", "value": 8}, "value": 4}, "labelFontSize": 23, "labelFontWeight": "bold", "labelFlush": false, "labelPadding": 2, "title": "NO₂ (ppbV)", "titleFontSize": 24, "titleFontWeight": "bold", "titleFontStyle": "italic", "titlePadding": 13}}}},
        {"data": {"values": [{"s": "17"}, {"s": "97"}]},
         "mark": {"type": "rule", "color": "black", "strokeWidth": 2, "strokeDash": [6, 4]},
         "encoding": {"x": {"field": "s", "type": "ordinal", "bandPosition": 0}}},
        {"data": {"values": [{"s": "8", "y": 44.5, "t": "(b)"}]},
         "mark": {"type": "text", "align": "left", "baseline": "middle", "dx": -12, "fontSize": 32, "fontWeight": "bold", "fontStyle": "italic", "color": "black"},
         "encoding": {"y": {"field": "y", "type": "quantitative",
           "axis": {"values": [0,2,4,6,8,10,12,14,16,18,20,22,24,26,28,30,32,34,36,38,40,42,44,46,48,50], "labelExpr": "datum.value % 10 === 0 ? datum.label : ''", "labelOverlap": false, "tickSize": {"condition": {"test": "datum.value % 10 === 0", "value": 8}, "value": 4}, "labelFontSize": 23, "labelFontWeight": "bold", "labelFlush": false, "labelPadding": 2, "title": "NO₂ (ppbV)", "titleFontSize": 24, "titleFontWeight": "bold", "titleFontStyle": "italic", "titlePadding": 13}}, "text": {"field": "t"}}},
        {"data": {"values": [{"s": "8", "y": 53.2, "t": "NMB = –8.0%"}]},
         "mark": {"type": "text", "align": "left", "baseline": "middle", "dx": -10, "fontSize": 21, "fontWeight": "bold", "fontStyle": "italic", "color": "#ff1a1a"},
         "encoding": {"y": {"field": "y", "type": "quantitative",
           "axis": {"values": [0,2,4,6,8,10,12,14,16,18,20,22,24,26,28,30,32,34,36,38,40,42,44,46,48,50], "labelExpr": "datum.value % 10 === 0 ? datum.label : ''", "labelOverlap": false, "tickSize": {"condition": {"test": "datum.value % 10 === 0", "value": 8}, "value": 4}, "labelFontSize": 23, "labelFontWeight": "bold", "labelFlush": false, "labelPadding": 2, "title": "NO₂ (ppbV)", "titleFontSize": 24, "titleFontWeight": "bold", "titleFontStyle": "italic", "titlePadding": 13}}, "text": {"field": "t"}}},
        {"data": {"values": [{"s": "18", "y": 34.5, "t": "NMB = –12.2%"}, {"s": "18", "y": 30.3, "t": "(Region_1, nstd=1)"}]},
         "mark": {"type": "text", "align": "center", "baseline": "middle", "dx": -10, "fontSize": 15, "fontWeight": "bold", "fontStyle": "italic", "color": "black"},
         "encoding": {"y": {"field": "y", "type": "quantitative",
           "axis": {"values": [0,2,4,6,8,10,12,14,16,18,20,22,24,26,28,30,32,34,36,38,40,42,44,46,48,50], "labelExpr": "datum.value % 10 === 0 ? datum.label : ''", "labelOverlap": false, "tickSize": {"condition": {"test": "datum.value % 10 === 0", "value": 8}, "value": 4}, "labelFontSize": 23, "labelFontWeight": "bold", "labelFlush": false, "labelPadding": 2, "title": "NO₂ (ppbV)", "titleFontSize": 24, "titleFontWeight": "bold", "titleFontStyle": "italic", "titlePadding": 13}}, "text": {"field": "t"}}},
        {"data": {"values": [{"s": "81", "y": 46.1, "t": "NMB = –5.4%"}, {"s": "81", "y": 41.8, "t": "(Region_2, nstd=34)"}, {"s": "97", "y": 57.4, "t": "NMB = –61.3%"}, {"s": "97", "y": 52.7, "t": "(Region_4, nstd=2)"}]},
         "mark": {"type": "text", "align": "center", "baseline": "middle", "dx": -22, "fontSize": 15, "fontWeight": "bold", "fontStyle": "italic", "color": "black"},
         "encoding": {"y": {"field": "y", "type": "quantitative",
           "axis": {"values": [0,2,4,6,8,10,12,14,16,18,20,22,24,26,28,30,32,34,36,38,40,42,44,46,48,50], "labelExpr": "datum.value % 10 === 0 ? datum.label : ''", "labelOverlap": false, "tickSize": {"condition": {"test": "datum.value % 10 === 0", "value": 8}, "value": 4}, "labelFontSize": 23, "labelFontWeight": "bold", "labelFlush": false, "labelPadding": 2, "title": "NO₂ (ppbV)", "titleFontSize": 24, "titleFontWeight": "bold", "titleFontStyle": "italic", "titlePadding": 13}}, "text": {"field": "t"}}}
      ]
    }
  ]
}
